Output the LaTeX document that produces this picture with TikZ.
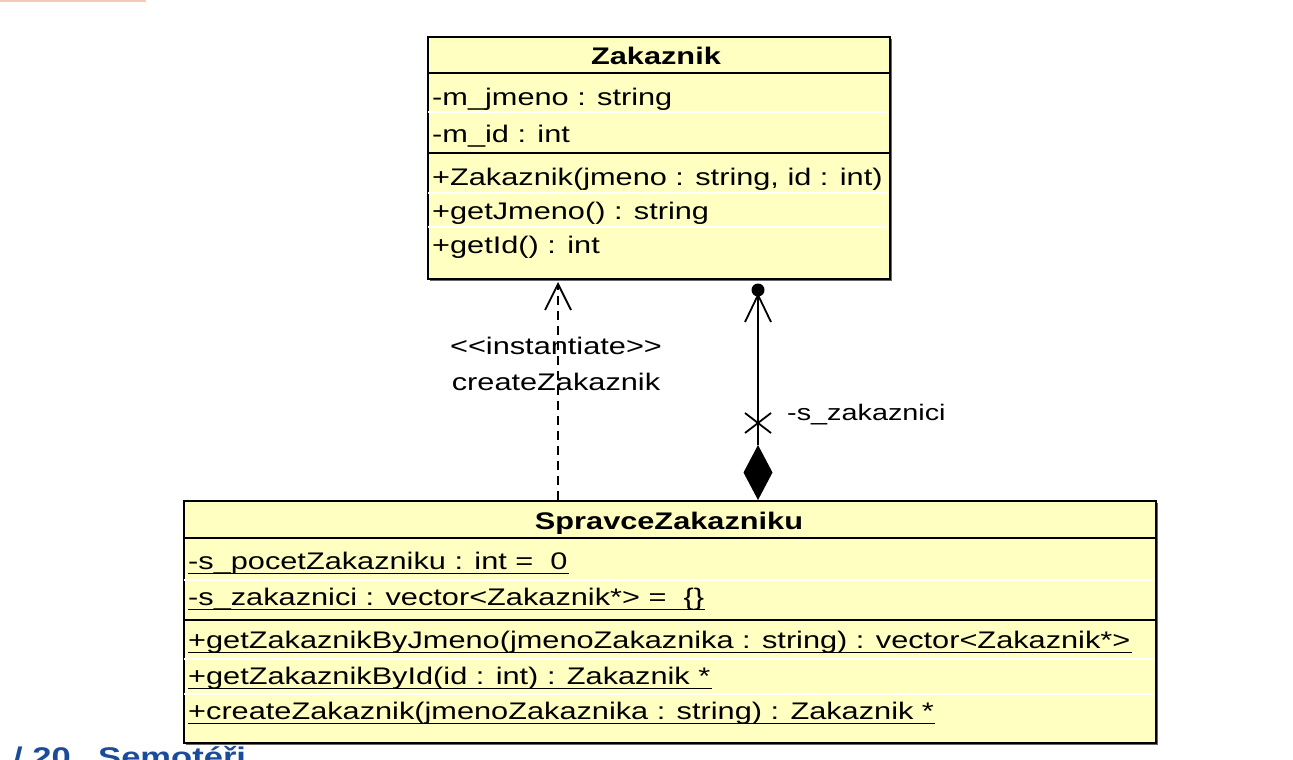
\documentclass[tikz,border=0pt]{standalone}
\usepackage{fontspec}
\setmainfont{Liberation Sans}[FakeStretch=1.28]
\usetikzlibrary{arrows.meta,calc}
\definecolor{umlfill}{HTML}{FFFFC2}
\definecolor{slideblue}{HTML}{1B4C9A}
\definecolor{slidepink}{HTML}{F8C8B6}
\tikzset{
  classbox/.style={draw=black, line width=2pt, fill=umlfill, anchor=north west, inner sep=0pt},
  shadowbox/.style={fill=black!60, anchor=north west, inner sep=0pt, draw=none},
  rowtext/.style={anchor=base west, inner sep=0pt, font=\fontsize{24}{28}\selectfont},
  titletext/.style={anchor=base, inner sep=0pt, font=\fontsize{24}{28}\selectfont\bfseries},
  sepline/.style={line width=1.6pt, black},
  whiteline/.style={line width=1.6pt, white},
  ulline/.style={line width=1.3pt, black},
  connector/.style={line width=1.8pt, black},
  lbltext/.style={anchor=base, inner sep=0pt, font=\fontsize{24}{28}\selectfont},
}
\begin{document}
\begin{tikzpicture}[x=1pt,y=-1pt]
\useasboundingbox (0,0) rectangle (1293,760);
% slide remnants
\fill[slidepink] (0,-3) rectangle (146,2);
\node[anchor=base east, inner sep=0pt, text=slideblue, font=\fontsize{27}{30}\selectfont\bfseries] (pg) at (71,766) {/ 20};
\node[anchor=base west, inner sep=0pt, text=slideblue, font=\fontsize{27}{30}\selectfont\bfseries] (sl) at (98,766) {Semotéři};

% ---------- Zakaznik ----------
\node[shadowbox, minimum width=462pt, minimum height=242pt] (zaksh) at (430,39) {};
\node[classbox, minimum width=462pt, minimum height=242pt] (zak) at (427,36) {};
\draw[sepline] (427,73) -- (889,73);
\draw[whiteline] (428,112) -- (888,112);
\draw[sepline] (427,153) -- (889,153);
\draw[whiteline] (428,193) -- (888,193);
\draw[whiteline] (428,227) -- (888,227);
\node[titletext] (zakt) at (656,64) {Zakaznik};
\node[rowtext] (za1) at (432,106) {-m\_jmeno : string};
\node[rowtext] (za2) at (432,142) {-m\_id : int};
\node[rowtext] (zm1) at (432,185) {+Zakaznik(jmeno : string, id : int)};
\node[rowtext] (zm2) at (432,219) {+getJmeno() : string};
\node[rowtext] (zm3) at (432,253) {+getId() : int};

% ---------- SpravceZakazniku ----------
\node[shadowbox, minimum width=972pt, minimum height=242pt] (sprsh) at (186,503) {};
\node[classbox, minimum width=972pt, minimum height=242pt] (spr) at (183,500) {};
\draw[sepline] (183,538) -- (1155,538);
\draw[whiteline] (184,580) -- (1154,580);
\draw[sepline] (183,620) -- (1155,620);
\draw[whiteline] (184,659) -- (1154,659);
\draw[whiteline] (184,694) -- (1154,694);
\node[titletext] (sprt) at (669,529) {SpravceZakazniku};
\node[rowtext] (sa1) at (188,569) {-s\_pocetZakazniku : int =\ \ 0};
\node[rowtext] (sa2) at (188,605) {-s\_zakaznici : vector<Zakaznik*> =\ \ \{\}};
\node[rowtext] (sm1) at (188,648) {+getZakaznikByJmeno(jmenoZakaznika : string) : vector<Zakaznik*>};
\node[rowtext] (sm2) at (188,684) {+getZakaznikById(id : int) : Zakaznik *};
\node[rowtext] (sm3) at (188,719) {+createZakaznik(jmenoZakaznika : string) : Zakaznik *};
\foreach \n in {sa1,sa2,sm1,sm2,sm3}{
  \draw[ulline] ([yshift=-4.5pt]\n.base west) -- ([yshift=-4.5pt,xshift=1pt]\n.base east);
}

% ---------- dependency <<instantiate>> ----------
\coordinate (dx) at (558,0);
\coordinate (dtip) at ($(zak.south -| dx)+(0,4)$);
\draw[connector, dash pattern=on 9pt off 6pt] (spr.north -| dx) -- (dtip);
\draw[connector, line join=miter] ($(dtip)+(-13,26)$) -- (dtip) -- ($(dtip)+(13,26)$);
\node[lbltext] (dl1) at (556,354) {{<}{<}instantiate{>}{>}};
\node[lbltext] (dl2) at (556,390) {createZakaznik};

% ---------- composition -s_zakaznici ----------
\coordinate (cx) at (758,0);
\coordinate (ctop) at ($(zak.south -| cx)+(0,10)$);
\coordinate (dtop) at ($(spr.north -| cx)+(0,-55)$);
\draw[connector] (dtop) -- (ctop);
\fill (ctop) circle (6.5pt);
\draw[connector, line join=miter] ($(ctop)+(-13,32)$) -- ($(ctop)+(0,5)$) -- ($(ctop)+(13,32)$);
\coordinate (xm) at (758,423);
\draw[connector] ($(xm)+(-13,-10)$) -- ($(xm)+(13,10)$);
\draw[connector] ($(xm)+(-13,10)$) -- ($(xm)+(13,-10)$);
\fill (dtop) -- ($(dtop)+(14.5,27.5)$) -- (spr.north -| cx) -- ($(dtop)+(-14.5,27.5)$) -- cycle;
\node[anchor=base west, inner sep=0pt, font=\fontsize{22.5}{26}\selectfont] (cl) at (787,420) {-s\_zakaznici};
\end{tikzpicture}
\end{document}
